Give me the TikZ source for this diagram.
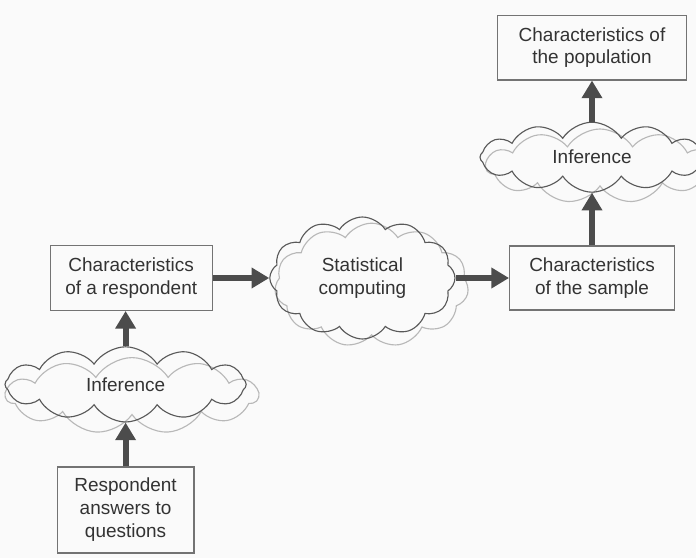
\documentclass[tikz,border=0pt]{standalone}
\usepackage{fontspec}
\setmainfont{Liberation Sans}
\usetikzlibrary{shapes.symbols, arrows.meta, positioning}
\tikzstyle{box} = [rectangle, draw = black!55, line width = 0.8pt, text = black!80,
align = center, inner sep = 0pt, font = \fontsize{13.5}{16.3}\selectfont]
\tikzstyle{cloudbox} = [cloud, cloud puffs = 12, cloud puff arc = 115, cloud ignores aspect,
draw = black!65, line width = 0.8pt, text = black!80, align = center, inner sep = 0pt,
font = \fontsize{13.5}{16.3}\selectfont]
\tikzstyle{shadowcloud} = [cloud, cloud puffs = 11, cloud puff arc = 115, cloud ignores aspect,
draw = black!28, line width = 0.8pt, inner sep = 0pt]
\tikzstyle{arrow} = [draw = black!70, line width = 4.2pt, -{Triangle[length = 12.5pt, width = 14pt]}]

\begin{document}
\begin{tikzpicture}

    \clip (0,0) rectangle (17.4,-13.95);
    \fill[black!2] (0,0) rectangle (17.4,-13.95);

    % light clouds behind
    \node (inf2back) [shadowcloud, minimum width = 5.7cm, minimum height = 1.85cm] at (15.0,-4.15) {};
    \node (statback) [shadowcloud, minimum width = 4.85cm, minimum height = 3.1cm] at (9.29,-7.13) {};
    \node (inf1back) [shadowcloud, minimum width = 6.3cm, minimum height = 1.9cm] at (3.3,-9.89) {};

    \node (pop) [box, minimum width = 4.72cm, minimum height = 1.62cm] at (14.8,-1.19) {Characteristics of\\the population};
    \node (inf2) [cloudbox, minimum width = 5.6cm, minimum height = 1.75cm] at (14.8,-3.93) {Inference};
    \node (sample) [box, minimum width = 4.12cm, minimum height = 1.6cm] at (14.8,-6.95) {Characteristics\\of the sample};
    \node (stat) [cloudbox, minimum width = 4.63cm, minimum height = 3.05cm] at (9.06,-6.95) {Statistical\\computing};
    \node (resp) [box, minimum width = 4.05cm, minimum height = 1.62cm] at (3.28,-6.95) {Characteristics\\of a respondent};
    \node (inf1) [cloudbox, minimum width = 6.03cm, minimum height = 1.88cm] at (3.14,-9.61) {Inference};
    \node (answers) [box, minimum width = 3.42cm, minimum height = 2.15cm] at (3.14,-12.75) {Respondent\\answers to\\questions};

    \draw[arrow] (answers) -- (inf1);
    \draw[arrow] (inf1) -- (inf1 |- resp.south);
    \draw[arrow] (resp) -- (stat);
    \draw[arrow] (stat) -- (sample);
    \draw[arrow] (sample) -- (inf2);
    \draw[arrow] (inf2) -- (pop);

\end{tikzpicture}
\end{document}
